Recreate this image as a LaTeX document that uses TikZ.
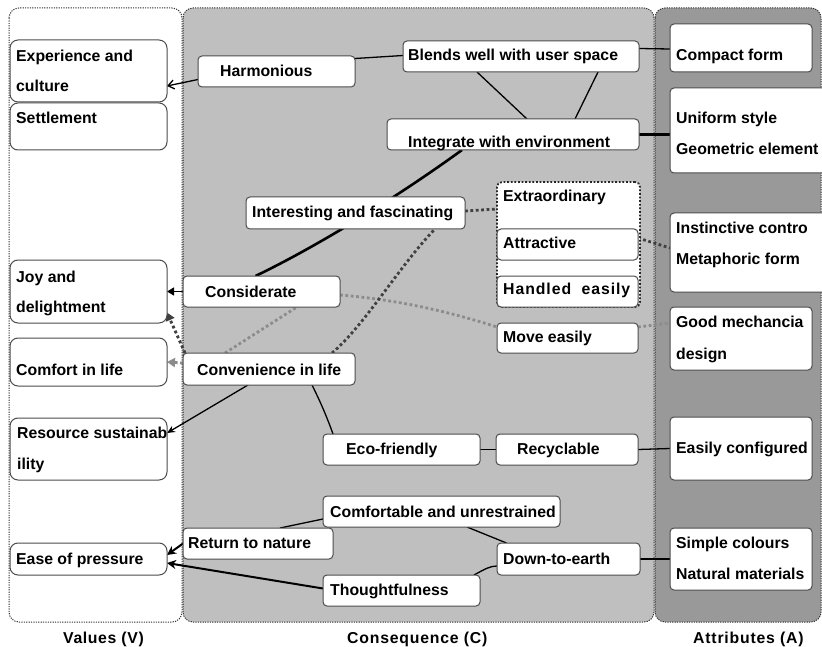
\documentclass[tikz,border=0pt]{standalone}
\usepackage{fontspec}
\setmainfont{Liberation Sans}
\usetikzlibrary{arrows.meta,calc}
\pgfdeclarelayer{bg}
\pgfdeclarelayer{edges}
\pgfsetlayers{bg,edges,main}
\tikzset{
  vbox/.style={draw=black!70, fill=white, line width=1pt, rounded corners=8pt, anchor=north west, inner sep=0pt, outer sep=0pt},
  cbox/.style={draw=black!70, fill=white, line width=1pt, rounded corners=4pt, anchor=north west, inner sep=0pt, outer sep=0pt},
  gbox/.style={draw=black!85, fill=white, line width=1.8pt, dash pattern=on 1.8pt off 1.8pt, rounded corners=5pt, anchor=north west, inner sep=0pt, outer sep=0pt},
  txt/.style={anchor=base west, inner sep=0pt, font=\fontsize{15.8}{18}\selectfont\bfseries},
  panel/.style={draw=black!80, line width=1pt, dash pattern=on 1.2pt off 1.2pt, rounded corners=10pt},
  conn/.style={line width=1.3pt, black},
  heavyconn/.style={line width=2.6pt, black},
  ddot/.style={line width=2.8pt, black!75, dash pattern=on 2.8pt off 2.6pt},
  gdot/.style={line width=2.8pt, black!45, dash pattern=on 2.8pt off 2.6pt},
}
\begin{document}
\begin{tikzpicture}[x=1pt,y=-1pt]
\useasboundingbox (0,0) rectangle (822,647);
\begin{pgfonlayer}{bg}
\path[panel, fill=white] (9,8) rectangle (182,622);
\path[panel, fill=black!25] (183,8) rectangle (654,622);
\path[panel, fill=black!40] (655,8) rectangle (821,622);
\end{pgfonlayer}

% Values
\node[vbox, minimum width=157pt, minimum height=62pt] (exp) at (10,40) {};
\node[vbox, minimum width=157pt, minimum height=47pt] (settle) at (10,103) {};
\node[vbox, minimum width=157pt, minimum height=63pt] (joy) at (10,260) {};
\node[vbox, minimum width=157pt, minimum height=48pt] (comf) at (10,338) {};
\node[vbox, minimum width=157pt, minimum height=62pt] (res) at (10,418) {};
\node[vbox, minimum width=157pt, minimum height=32pt] (ease) at (10,543) {};
\node[txt] (exp-t1) at (16,62) {Experience and};
\node[txt] (exp-t2) at (16,92) {culture};
\node[txt] (settle-t) at (16,124) {Settlement};
\node[txt] (joy-t1) at (16,282) {Joy and};
\node[txt] (joy-t2) at (16,312) {delightment};
\node[txt] (comf-t) at (16,375) {Comfort in life};
\node[txt] (res-t1) at (17,438) {Resource sustainab};
\node[txt] (res-t2) at (17,469) {ility};
\node[txt] (ease-t) at (16,564) {Ease of pressure};

% Consequences
\node[cbox, minimum width=157pt, minimum height=31pt] (harm) at (198,56) {};
\node[cbox, minimum width=236pt, minimum height=31pt] (blend) at (403,41) {};
\node[cbox, minimum width=252pt, minimum height=31pt] (integ) at (387,119) {};
\node[cbox, minimum width=219pt, minimum height=32pt] (inter) at (246,197) {};
\node[gbox, minimum width=143pt, minimum height=125pt] (grp) at (497,182) {};
\node[cbox, minimum width=141pt, minimum height=31pt] (attr) at (497,229) {};
\node[cbox, minimum width=141pt, minimum height=31pt] (handl) at (497,276) {};
\node[cbox, minimum width=157pt, minimum height=31pt] (consid) at (183,276) {};
\node[cbox, minimum width=141pt, minimum height=30pt] (move) at (497,323) {};
\node[cbox, minimum width=172pt, minimum height=32pt] (conv) at (183,353) {};
\node[cbox, minimum width=157pt, minimum height=31pt] (eco) at (323,434) {};
\node[cbox, minimum width=142pt, minimum height=31pt] (recyc) at (496,434) {};
\node[cbox, minimum width=237pt, minimum height=31pt] (comfo) at (323,496) {};
\node[cbox, minimum width=150pt, minimum height=31pt] (ret) at (183,528) {};
\node[cbox, minimum width=143pt, minimum height=32pt] (down) at (497,543) {};
\node[cbox, minimum width=157pt, minimum height=31pt] (thought) at (323,575) {};
\node[txt] (harm-t) at (220,77) {Harmonious};
\node[txt] (blend-t) at (408,61) {Blends well with user space};
\node[txt] (integ-t) at (408,148) {Integrate with environment};
\node[txt] (inter-t) at (252,218) {Interesting and fascinating};
\node[txt] (grp-t) at (503,202) {Extraordinary};
\node[txt] (attr-t) at (503,249) {Attractive};
\node[txt] (handl-t) at (503,294) {\addfontfeatures{LetterSpace=6}Handled\hspace{5pt} easily};
\node[txt] (consid-t) at (205,297) {Considerate};
\node[txt] (move-t) at (503,342) {Move easily};
\node[txt] (conv-t) at (197,375) {Convenience in life};
\node[txt] (eco-t) at (346,454) {Eco-friendly};
\node[txt] (recyc-t) at (517,454) {Recyclable};
\node[txt] (comfo-t) at (330,517) {Comfortable and unrestrained};
\node[txt] (ret-t) at (188,548) {Return to nature};
\node[txt] (down-t) at (503,564) {Down-to-earth};
\node[txt] (thought-t) at (330,595) {Thoughtfulness};

% Attributes
\node[cbox, minimum width=142pt, minimum height=48pt] (compact) at (670,24) {};
\node[cbox, minimum width=160pt, minimum height=85pt] (unif) at (670,88) {};
\node[cbox, minimum width=160pt, minimum height=79pt] (inst) at (670,213) {};
\node[cbox, minimum width=142pt, minimum height=63pt] (good) at (670,307) {};
\node[cbox, minimum width=142pt, minimum height=63pt] (easy) at (670,417) {};
\node[cbox, minimum width=142pt, minimum height=62pt] (simple) at (670,528) {};
\node[txt] (compact-t) at (676,61) {Compact form};
\node[txt] (unif-t1) at (676,124) {Uniform style};
\node[txt] (unif-t2) at (676,155) {Geometric element};
\node[txt] (inst-t1) at (676,234) {Instinctive contro};
\node[txt] (inst-t2) at (676,265) {Metaphoric form};
\node[txt] (good-t1) at (676,327) {Good mechancia};
\node[txt] (good-t2) at (676,359) {design};
\node[txt] (easy-t) at (676,453) {Easily configured};
\node[txt] (simple-t1) at (676,548) {Simple colours};
\node[txt] (simple-t2) at (676,579) {Natural materials};

% Column labels
\node[txt] (lv) at (63,643) {\addfontfeatures{LetterSpace=4}Values (V)};
\node[txt] (lc) at (347,643) {\addfontfeatures{LetterSpace=5}Consequence (C)};
\node[txt] (la) at (693,643) {\addfontfeatures{LetterSpace=5}Attributes (A)};

% Connectors
\begin{pgfonlayer}{edges}
\draw[conn, -{Straight Barb[length=6pt,width=9pt]}] ([yshift=-8]harm.west) -- ([yshift=-15]exp.east);
\draw[conn] ([yshift=13]harm.east) -- ([yshift=1]blend.west);
\draw[conn] ([yshift=8]blend.east) -- ([yshift=-1]compact.west);
\draw[conn] ([xshift=-44]blend.south) -- ([xshift=14]integ.north);
\draw[conn] ([xshift=77]blend.south) -- ([xshift=62]integ.north);
\draw[heavyconn] (integ.east) -- ([yshift=-4]unif.west);
\draw[heavyconn] ([xshift=-51]integ.south) .. controls (400,195) and (320,245) .. ([xshift=-6]consid.north);
\draw[conn, -{Triangle[length=7pt,width=8pt]}] (consid.west) -- (joy.east);
\draw[ddot] ([yshift=2]inter.east) -- ([yshift=35.5]grp.west);
\draw[ddot] ([yshift=6.5]attr.east) -- ([yshift=4.5]inst.west);
\draw[gdot] ([yshift=11]move.east) -- ([yshift=15.5]good.west);
\draw[gdot] ([yshift=-3.5]consid.east) .. controls (400,300) and (450,312) .. ([yshift=11]move.west);
\draw[gdot] ([xshift=-44]conv.north) -- ([xshift=35.5]consid.south);
\draw[gdot, -{Triangle[length=8pt,width=9pt]}] ([yshift=6]conv.west) -- (comf.east);
\draw[ddot, -{Triangle[length=8pt,width=9pt]}] ([xshift=2]conv.north west) -- ([yshift=-21]joy.east);
\draw[ddot] ([xshift=63]conv.north) .. controls (365,325) and (400,265) .. ([xshift=79.5]inter.south);
\draw[conn, -{Stealth[length=8pt,width=7pt]}] ([xshift=-21]conv.south) -- ([yshift=16]res.east);
\draw[conn] ([xshift=43]conv.south) .. controls (322,405) and (328,420) .. ([xshift=-68.5]eco.north);
\draw[conn] (eco.east) -- (recyc.west);
\draw[conn] (recyc.east) -- (easy.west);
\draw[conn] ([yshift=-7.5]comfo.west) -- ([xshift=22]ret.north);
\draw[heavyconn, line width=2pt, -{Stealth[length=9pt,width=9pt]}] (ret.west) -- ([yshift=4]ease.east);
\draw[heavyconn, line width=2pt, -{Stealth[length=9pt,width=9pt]}] ([yshift=2]thought.west) -- ([yshift=-4]ease.east);
\draw[conn] ([xshift=25.5]comfo.south) -- ([xshift=-62]down.north);
\draw[conn] ([xshift=-6]thought.north east) .. controls (485,569) and (490,566) .. ([yshift=-7]down.west);
\draw[heavyconn] (down.east) -- (simple.west);
\end{pgfonlayer}
\end{tikzpicture}
\end{document}
